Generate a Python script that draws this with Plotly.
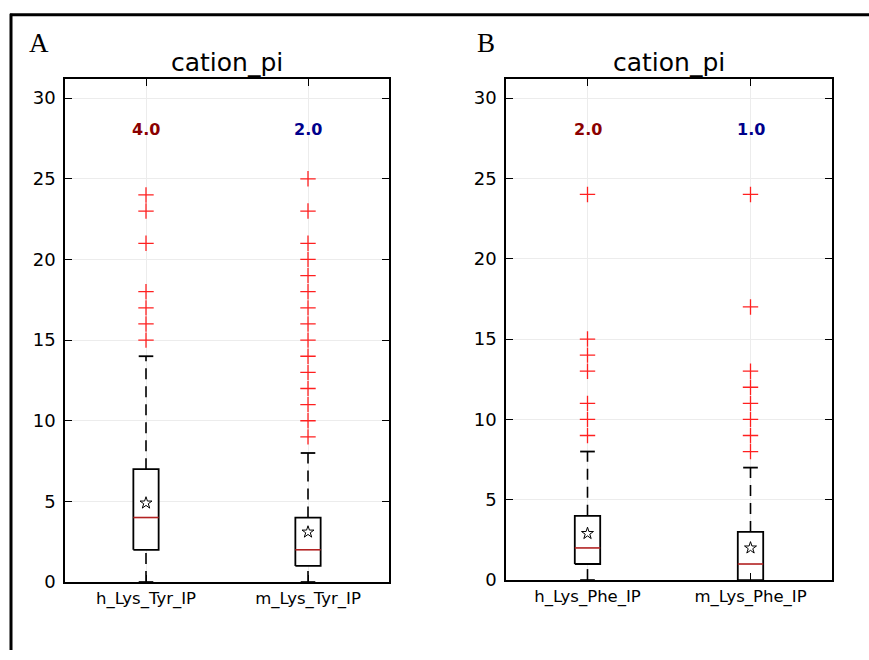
import plotly.graph_objects as go

# ---------------- data ----------------
categories_A = ["h_Lys_Tyr_IP", "m_Lys_Tyr_IP"]
q1_A = [2, 1]
median_A = [4, 2]
q3_A = [7, 4]
lowfence_A = [0, 0]
highfence_A = [14, 8]
mean_A = [4.9, 3.1]
outliers_A = [
    [15, 16, 17, 18, 21, 23, 24],
    [9, 10, 11, 12, 13, 14, 15, 16, 17, 18, 19, 20, 21, 23, 25],
]
top_labels_A = ["4.0", "2.0"]

categories_B = ["h_Lys_Phe_IP", "m_Lys_Phe_IP"]
q1_B = [1, 0]
median_B = [2, 1]
q3_B = [4, 3]
lowfence_B = [0, 0]
highfence_B = [8, 7]
mean_B = [2.9, 2.0]
outliers_B = [
    [9, 10, 11, 13, 14, 15, 24],
    [8, 9, 10, 11, 12, 13, 17, 24],
]
top_labels_B = ["2.0", "1.0"]

label_colors = ["#8b0000", "#00008b"]
yticks = [0, 5, 10, 15, 20, 25, 30]

# ---------------- figure ----------------
W, H = 869, 660
fig = go.Figure()

HALF_BOX = 0.078
HALF_CAP = 0.045


def px(x):
    return x / W


def py(y):
    return 1 - y / H


def add_panel(xa, ya, q1, med, q3, lo, hi, mean, outs):
    for i in range(len(q1)):
        pos = i + 1
        # dashed whiskers
        for a, b in ((lo[i], q1[i]), (q3[i], hi[i])):
            fig.add_trace(go.Scatter(x=[pos, pos], y=[a, b], mode="lines",
                                     line=dict(color="black", width=1.6, dash="11px,7px"),
                                     xaxis=xa, yaxis=ya, hoverinfo="skip", showlegend=False))
        # caps
        for v in (lo[i], hi[i]):
            fig.add_trace(go.Scatter(x=[pos - HALF_CAP, pos + HALF_CAP], y=[v, v], mode="lines",
                                     line=dict(color="black", width=1.8),
                                     xaxis=xa, yaxis=ya, hoverinfo="skip", showlegend=False))
        # box
        fig.add_trace(go.Scatter(
            x=[pos - HALF_BOX, pos + HALF_BOX, pos + HALF_BOX, pos - HALF_BOX, pos - HALF_BOX],
            y=[q1[i], q1[i], q3[i], q3[i], q1[i]], mode="lines",
            fill="toself", fillcolor="white",
            line=dict(color="black", width=1.8),
            xaxis=xa, yaxis=ya, hoverinfo="skip", showlegend=False))
        # median
        fig.add_trace(go.Scatter(x=[pos - HALF_BOX, pos + HALF_BOX], y=[med[i], med[i]], mode="lines",
                                 line=dict(color="#b22222", width=1.6),
                                 xaxis=xa, yaxis=ya, hoverinfo="skip", showlegend=False))
        # mean
        fig.add_trace(go.Scatter(x=[pos], y=[mean[i]], mode="markers",
                                 marker=dict(symbol="star-open", size=9, color="black",
                                             line=dict(width=1, color="black")),
                                 xaxis=xa, yaxis=ya, hoverinfo="skip", showlegend=False))
        # outliers
        fig.add_trace(go.Scatter(x=[pos] * len(outs[i]), y=outs[i], mode="markers",
                                 marker=dict(symbol="cross-thin", size=11,
                                             line=dict(width=1.3, color="#ff2020")),
                                 xaxis=xa, yaxis=ya, hoverinfo="skip", showlegend=False))


add_panel("x", "y", q1_A, median_A, q3_A, lowfence_A, highfence_A, mean_A, outliers_A)
add_panel("x2", "y2", q1_B, median_B, q3_B, lowfence_B, highfence_B, mean_B, outliers_B)

axis_common = dict(showline=True, linecolor="black", linewidth=1.6, mirror="ticks",
                   ticks="inside", ticklen=7, tickwidth=1.3, tickcolor="black",
                   showgrid=True, gridcolor="#ececec", gridwidth=1, zeroline=False)

dom_A_x = [px(65), px(389)]
dom_B_x = [px(506), px(832)]
dom_A_y = [py(591), py(80)]
dom_B_y = [py(589), py(80)]

fig.update_layout(
    width=W, height=H, autosize=False,
    margin=dict(l=0, r=0, t=0, b=0),
    paper_bgcolor="white", plot_bgcolor="white",
    font=dict(family="DejaVu Sans", color="black"),
    xaxis=dict(domain=dom_A_x, anchor="y", range=[0.5, 2.5], tickvals=[1, 2],
               ticktext=categories_A, tickfont=dict(size=16.5), **axis_common),
    yaxis=dict(domain=dom_A_y, anchor="x", range=[0, 31.2], tickvals=yticks,
               tickfont=dict(size=18), ticklabelstandoff=4, **axis_common),
    xaxis2=dict(domain=dom_B_x, anchor="y2", range=[0.5, 2.5], tickvals=[1, 2],
                ticktext=categories_B, tickfont=dict(size=16.5), **axis_common),
    yaxis2=dict(domain=dom_B_y, anchor="x2", range=[0, 31.2], tickvals=yticks,
                tickfont=dict(size=18), ticklabelstandoff=4, **axis_common),
)

annotations = []
# subplot titles
for dom in (dom_A_x, dom_B_x):
    annotations.append(dict(text="cation_pi", x=(dom[0] + dom[1]) / 2, y=py(63),
                            xref="paper", yref="paper", showarrow=False,
                            xanchor="center", yanchor="middle",
                            font=dict(size=25, family="DejaVu Sans", color="black")))
# panel letters
annotations.append(dict(text="A", x=px(39), y=py(44), xref="paper", yref="paper",
                        showarrow=False, xanchor="center", yanchor="middle",
                        font=dict(size=27, family="Liberation Serif", color="black")))
annotations.append(dict(text="B", x=px(486), y=py(44), xref="paper", yref="paper",
                        showarrow=False, xanchor="center", yanchor="middle",
                        font=dict(size=27, family="Liberation Serif", color="black")))
# median value labels above each box
for xr, labels in (("x", top_labels_A), ("x2", top_labels_B)):
    for i, lab in enumerate(labels):
        annotations.append(dict(text="<b>%s</b>" % lab, x=i + 1, xref=xr,
                                y=py(132), yref="paper", showarrow=False,
                                xanchor="center", yanchor="middle",
                                font=dict(size=16, family="DejaVu Sans", color=label_colors[i])))
fig.update_layout(annotations=annotations)

# outer frame (top and left edges)
fig.add_shape(type="line", xref="paper", yref="paper", x0=px(10), x1=1.0, y0=py(15), y1=py(15),
              line=dict(color="black", width=3))
fig.add_shape(type="line", xref="paper", yref="paper", x0=px(11), x1=px(11), y0=py(14), y1=0,
              line=dict(color="black", width=3))

fig.write_html("out.html", default_width="869px", default_height="660px",
               config={"responsive": False})
